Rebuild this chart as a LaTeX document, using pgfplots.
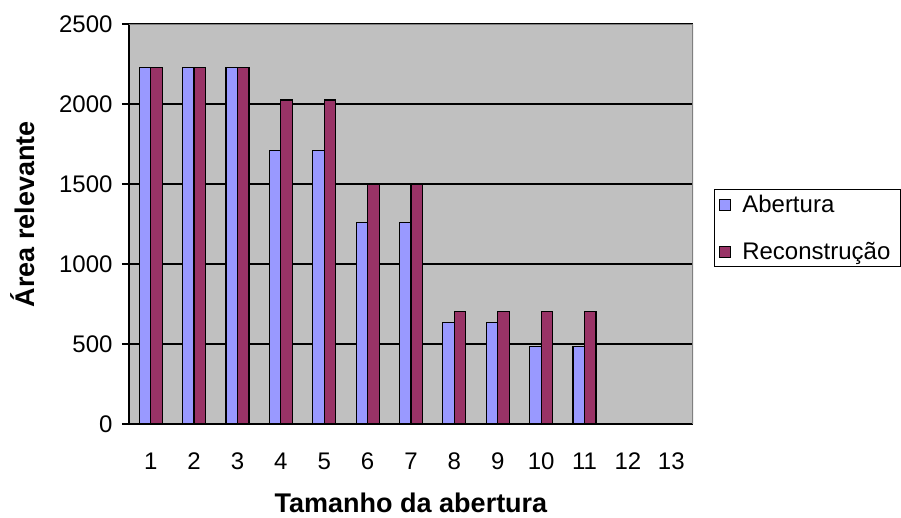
\documentclass[border=0pt]{standalone}
\usepackage{fontspec}
\setmainfont{Liberation Sans}
\usepackage{pgfplots}
\pgfplotsset{compat=1.18}

\definecolor{plotgray}{HTML}{C0C0C0}
\definecolor{abertura}{HTML}{9999FF}
\definecolor{recon}{HTML}{993366}

\newcommand{\tickfont}{\fontsize{24}{28}\selectfont}
\newcommand{\labfont}{\fontsize{27}{30}\selectfont\bfseries}

\begin{document}
\begin{tikzpicture}
\begin{axis}[
  at={(0pt,0pt)}, anchor=south west,
  scale only axis,
  width=564pt, height=400pt,
  xmin=0.5, xmax=13.5,
  ymin=0, ymax=2500,
  enlargelimits=false,
  ybar=0pt, bar width=11.5pt,
  axis background/.style={fill=plotgray},
  axis x line*=bottom, axis y line*=left,
  axis line style={-, black, line width=1.3pt},
  xtick={1,...,13},
  minor xtick={0.5,1.5,...,13.5},
  xtick style={draw=none},
  minor x tick style={black, line width=1.3pt},
  ytick={0,500,...,2500},
  y tick style={black, line width=1.3pt},
  tick align=outside,
  major tick length=7pt, minor tick length=8pt,
  ymajorgrids,
  grid style={black, line width=1.3pt},
  /pgf/number format/assume math mode=true,
  /pgf/number format/1000 sep={},
  ticklabel style={font=\tickfont},
  yticklabel style={xshift=-6pt},
  xticklabel style={yshift=-18pt},
  every axis x label/.style={at={(axis description cs:0.5,-0.197)}, anchor=center},
  every axis y label/.style={at={(axis description cs:-0.188,0.525)}, anchor=center, rotate=90},
  xlabel={\labfont Tamanho da abertura},
  ylabel={\labfont Área relevante},
  legend style={at={(1,0.5)}, anchor=west, xshift=21pt, yshift=-4pt, draw=black, line width=1pt,
    font=\tickfont, row sep=24pt, inner sep=4pt, cells={anchor=west},
    /tikz/every odd column/.append style={column sep=6pt}},
  legend image code/.code={\draw[#1, draw=black, line width=0.8pt] (0pt,-5.5pt) rectangle (11pt,5.5pt);},
  legend style={nodes={inner xsep=6pt}},
]
\addplot[fill=abertura, draw=black, line width=1.2pt] coordinates {
  (1,2230) (2,2230) (3,2230) (4,1710) (5,1710) (6,1260)
  (7,1260) (8,635) (9,635) (10,485) (11,485)
};
\addplot[fill=recon, draw=black, line width=1.2pt] coordinates {
  (1,2230) (2,2230) (3,2230) (4,2025) (5,2025) (6,1500)
  (7,1500) (8,705) (9,705) (10,705) (11,705)
};
\legend{Abertura, Reconstrução}
\draw[gray, line width=1.5pt] (rel axis cs:0,1) -- (rel axis cs:1,1) -- (rel axis cs:1,0);
\end{axis}
\pgfresetboundingbox
\path[use as bounding box] (-129pt,-93pt) rectangle (772pt,424pt);
\end{tikzpicture}
\end{document}
